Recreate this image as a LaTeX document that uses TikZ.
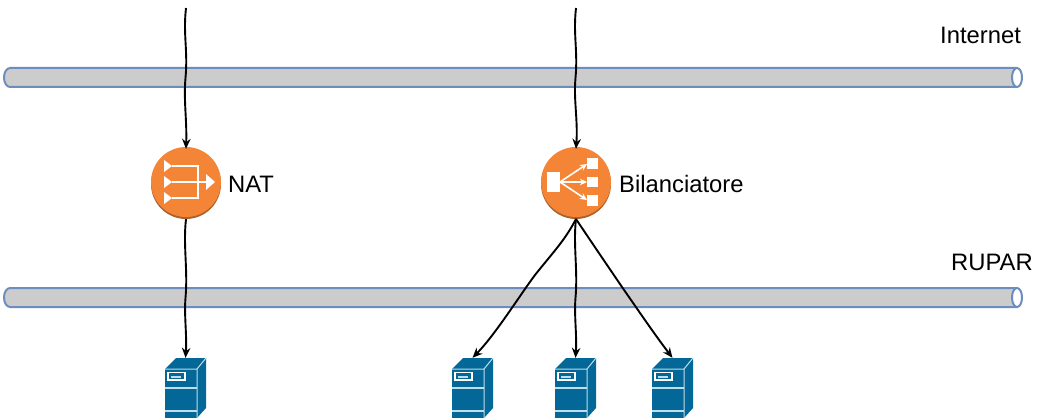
\documentclass[tikz,border=0pt]{standalone}
\usepackage{fontspec}
\setmainfont{Liberation Sans}
\usetikzlibrary{arrows.meta,calc}
\definecolor{pipefill}{HTML}{CCCCCC}
\definecolor{pipeline}{HTML}{6C8EBF}
\definecolor{orangeface}{HTML}{F58536}
\definecolor{orangedark}{HTML}{A9622E}
\definecolor{srvblue}{HTML}{036897}
\definecolor{srvline}{HTML}{BFDDEB}
\tikzset{
  x=1pt,y=-1pt,
  pipebody/.style={fill=pipefill,draw=pipeline,line width=2pt,line join=round},
  pipeend/.style={fill=white,draw=pipeline,line width=2pt},
  link/.style={draw=black,line width=1.9pt,-{Stealth[length=10pt,width=8.5pt]}},
  routerbody/.style={circle,fill=orangedark,inner sep=0pt,minimum size=70pt},
  routerface/.style={fill=orangeface},
  iconfill/.style={fill=white,draw=none},
  iconline/.style={draw=white,line width=2.4pt},
  label/.style={inner sep=0pt,font=\fontsize{23.8}{26}\selectfont,anchor=base west},
  srvslot/.style={inner sep=0pt,minimum width=41pt,minimum height=60pt},
  pics/server/.style={code={
    \fill[srvblue] (0,11)--(11,0)--(41,0)--(32,11)--cycle;
    \fill[srvblue] (32,11)--(41,0)--(41,50)--(32,60)--cycle;
    \fill[srvblue] (0,11) rectangle (32,60);
    \draw[srvline,line width=1pt] (0,11)--(32,11)--(41,0) (32,11)--(32,60);
    \draw[srvline,line width=1.2pt] (0,30)--(32,30) (0,53)--(32,53);
    \draw[white,line width=1.5pt] (3,14.5) rectangle (20,22);
    \fill[srvline] (6,17.5) rectangle (16,19.5);
  }}
}
\begin{document}
\begin{tikzpicture}
\useasboundingbox (0,0) rectangle (1042,420);
\fill[white] (0,0) rectangle (1042,420);
% pipes
\draw[pipebody] (1017,68) -- (10,68) arc[start angle=90,end angle=270,x radius=6,y radius=-9.5] -- (1017,87) -- cycle;
\draw[pipeend] (1017,77.5) ellipse[x radius=5,y radius=9.5];
\draw[pipebody] (1017,288) -- (10,288) arc[start angle=90,end angle=270,x radius=6,y radius=-9.5] -- (1017,307) -- cycle;
\draw[pipeend] (1017,297.5) ellipse[x radius=5,y radius=9.5];
% routers
\node[routerbody] (nat) at (186,184) {};
\fill[routerface] (186,182) circle (35);
\node[routerbody] (bal) at (576,184) {};
\fill[routerface] (576,182) circle (35);
\begin{scope}[shift={(186,182)}]
  \fill[iconfill] (-22,-22)--(-14,-16)--(-22,-10)--cycle;
  \fill[iconfill] (-22,-6)--(-14,0)--(-22,6)--cycle;
  \fill[iconfill] (-22,10)--(-14,16)--(-22,22)--cycle;
  \draw[iconline] (-14,-16)--(12,-16)--(12,16)--(-14,16);
  \draw[iconline] (-14,0)--(21,0);
  \fill[iconfill] (20,-8)--(29,0)--(20,8)--cycle;
\end{scope}
\begin{scope}[shift={(576,182)}]
  \fill[iconfill] (-29,-10) rectangle (-16,10);
  \fill[iconfill] (11,-24) rectangle (22,-13);
  \fill[iconfill] (11,-5) rectangle (22,5);
  \fill[iconfill] (11,13) rectangle (22,24);
  \draw[white,line width=1.6pt,-{Stealth[length=7pt,width=6.5pt]}] (-16,0)--(11,-18);
  \draw[white,line width=1.6pt,-{Stealth[length=7pt,width=6.5pt]}] (-16,0)--(11,0);
  \draw[white,line width=1.6pt,-{Stealth[length=7pt,width=6.5pt]}] (-16,0)--(11,18);
\end{scope}
% servers
\node[srvslot] (s0) at (185.5,388) {};
\node[srvslot] (s1) at (472.5,388) {};
\node[srvslot] (s2) at (575.5,388) {};
\node[srvslot] (s3) at (672.5,388) {};
\pic at (165,358) {server};
\pic at (452,358) {server};
\pic at (555,358) {server};
\pic at (652,358) {server};
% free ends
\coordinate (in1) at (186,8);
\coordinate (in2) at (576,8);
\coordinate (balb) at (576,219);
% connectors (slightly hand-drawn wobble)
\draw[link] (in1) .. controls (183,35) and (188,50) .. (185.5,78) .. controls (183.5,100) and (187,120) .. (nat.north);
\draw[link] (in2) .. controls (573,35) and (578,50) .. (575.5,78) .. controls (573.5,100) and (578,120) .. (bal.north);
\draw[link] (nat.south) .. controls (183,245) and (188,270) .. (185.5,298) .. controls (184,315) and (187,335) .. (s0.north);
\draw[link] (balb) .. controls (565,240) and (555,250) .. (535,275) .. controls (520,295) and (495,335) .. (s1.north);
\draw[link] (balb) .. controls (573,245) and (578,270) .. (575.5,298) .. controls (574,315) and (577,335) .. (s2.north);
\draw[link] (balb) .. controls (590,240) and (605,262) .. (622,287) .. controls (638,310) and (655,335) .. (s3.north);
% labels
\node[label] (linternet) at (940,44) {Internet};
\node[label] (lnat) at (228,192) {NAT};
\node[label] (lbal) at (619,192) {Bilanciatore};
\node[label] (lrupar) at (951,270) {RUPAR};
\end{tikzpicture}
\end{document}
